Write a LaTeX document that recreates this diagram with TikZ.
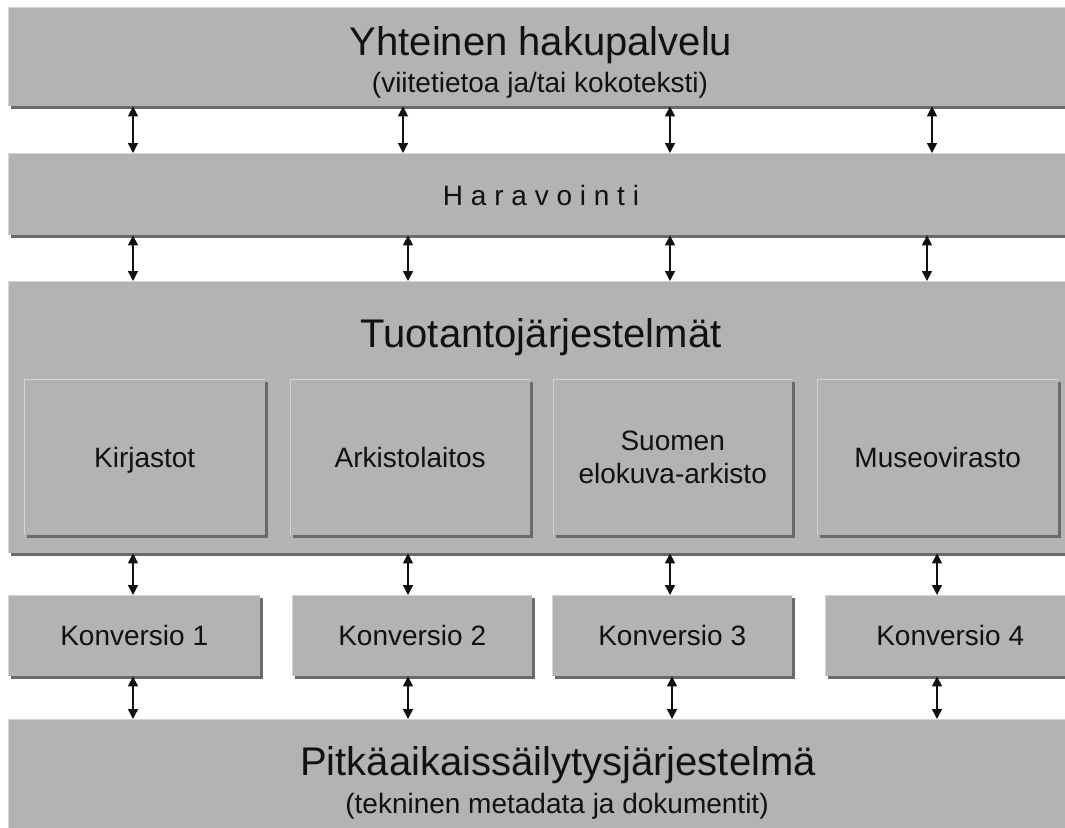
\documentclass[tikz,border=0pt]{standalone}
\usepackage{fontspec}
\setmainfont{Liberation Sans}
\usetikzlibrary{shadows,arrows.meta}
\definecolor{boxgray}{HTML}{B3B3B3}
\definecolor{shadowgray}{HTML}{6A6A6A}
\definecolor{hlgray}{HTML}{D4D4D4}
\definecolor{inkgray}{HTML}{111111}
\tikzset{
  panel/.style={rectangle, fill=boxgray, inner sep=0pt, anchor=north west,
    drop shadow={shadow xshift=3pt, shadow yshift=-3pt, fill=shadowgray, opacity=1},
    path picture={\draw[hlgray, line width=2.5pt]
      (path picture bounding box.south west) -- (path picture bounding box.north west)
      -- (path picture bounding box.north east);}},
  big/.style={font=\fontsize{40}{46}\selectfont, text=inkgray, inner sep=0pt},
  small/.style={font=\fontsize{28}{33}\selectfont, text=inkgray},
  oneline/.style={text height=20pt, text depth=0pt},
  link/.style={{Triangle[width=10pt,length=10pt]}-{Triangle[width=10pt,length=10pt]},
    line width=1.5pt, draw=inkgray},
}
\begin{document}
\begin{tikzpicture}[x=1pt,y=-1pt]
\useasboundingbox (0,0) rectangle (1065,827);
\fill[white] (0,0) rectangle (1065,827);

% bands
\node[panel, minimum width=1070pt, minimum height=99pt]  (hak) at (8,7) {};
\node[panel, minimum width=1070pt, minimum height=82pt]  (har) at (8,153) {};
\node[panel, minimum width=1070pt, minimum height=272pt] (tuo) at (8,281) {};
\node[panel, minimum width=1070pt, minimum height=120pt] (pit) at (8,719) {};

% inner boxes
\node[panel, small, oneline, minimum width=241pt, minimum height=156pt] (kir) at (24,379) {Kirjastot};
\node[panel, small, oneline, minimum width=240pt, minimum height=156pt] (ark) at (290,379) {Arkistolaitos};
\node[panel, small, minimum width=239pt, minimum height=156pt, align=center] (sea) at (553,379) {Suomen\\elokuva-arkisto};
\node[panel, small, oneline, minimum width=241pt, minimum height=156pt] (mus) at (817,379) {Museovirasto};

% conversion boxes
\node[panel, small, oneline, minimum width=252pt, minimum height=81pt] (k1) at (8,595) {Konversio 1};
\node[panel, small, oneline, minimum width=240pt, minimum height=81pt] (k2) at (292,595) {Konversio 2};
\node[panel, small, oneline, minimum width=240pt, minimum height=81pt] (k3) at (552,595) {Konversio 3};
\node[panel, small, oneline, minimum width=250pt, minimum height=81pt] (k4) at (825,595) {Konversio 4};

% texts
\node[big, anchor=base] (t1) at (541,55) {Yhteinen hakupalvelu};
\node[small, anchor=base, inner sep=0pt] (t1s) at (540,92) {(viitetietoa ja/tai kokoteksti)};
\node[small, anchor=base, inner sep=0pt] (t2) at (541,205) {H a r a v o i n t i};
\node[big, anchor=base] (t3) at (541,347) {Tuotantojärjestelmät};
\node[big, anchor=base] (t5) at (558,775) {Pitkäaikaissäilytysjärjestelmä};
\node[small, anchor=base, inner sep=0pt] (t5s) at (557,813) {(tekninen metadata ja dokumentit)};

% arrow columns
\coordinate (a1) at (133,0); \coordinate (a2) at (403,0); \coordinate (a3) at (670,0); \coordinate (a4) at (932,0);
\coordinate (b1) at (133,0); \coordinate (b2) at (408,0); \coordinate (b3) at (670,0); \coordinate (b4) at (927,0);
\coordinate (c1) at (133,0); \coordinate (c2) at (408,0); \coordinate (c3) at (670,0); \coordinate (c4) at (937,0);
\coordinate (d1) at (133,0); \coordinate (d2) at (408,0); \coordinate (d3) at (672,0); \coordinate (d4) at (937,0);

\foreach \i in {1,2,3,4}{
  \draw[link] (hak.south -| a\i) -- (har.north -| a\i);
  \draw[link] (har.south -| b\i) -- (tuo.north -| b\i);
}
\draw[link] (tuo.south -| c1) -- (k1.north -| c1);
\draw[link] (tuo.south -| c2) -- (k2.north -| c2);
\draw[link] (tuo.south -| c3) -- (k3.north -| c3);
\draw[link] (tuo.south -| c4) -- (k4.north -| c4);
\draw[link] (k1.south -| d1) -- (pit.north -| d1);
\draw[link] (k2.south -| d2) -- (pit.north -| d2);
\draw[link] (k3.south -| d3) -- (pit.north -| d3);
\draw[link] (k4.south -| d4) -- (pit.north -| d4);
\end{tikzpicture}
\end{document}
